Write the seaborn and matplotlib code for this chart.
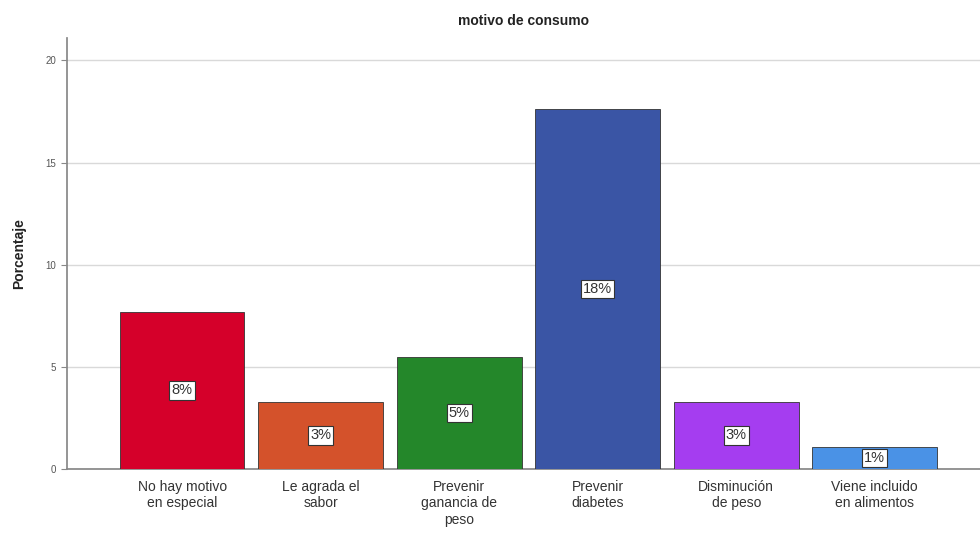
import pandas as pd
import seaborn as sns
import matplotlib.pyplot as plt

categorias = ['No hay motivo\nen especial', 'Le agrada el\nsabor', 'Prevenir\nganancia de\npeso',
              'Prevenir\ndiabetes', 'Disminución\nde peso', 'Viene incluido\nen alimentos']
porcentajes = [7.7, 3.3, 5.5, 17.6, 3.3, 1.1]
etiquetas = ['8%', '3%', '5%', '18%', '3%', '1%']
colores = ['#D5002A', '#D4522B', '#24872A', '#3A55A5', '#A53DF0', '#4A92E6']


def main():
    sns.set_theme(style='white')
    plt.rcParams['font.family'] = ['Liberation Sans', 'DejaVu Sans']

    df = pd.DataFrame({'motivo': categorias, 'pct': porcentajes})

    fig = plt.figure(figsize=(9.8, 5.33), dpi=100)
    ax = fig.add_axes([0.068, 0.12, 0.932, 0.809])

    sns.barplot(data=df, x='motivo', y='pct', hue='motivo', palette=colores,
                width=0.9, legend=False, edgecolor='#333333', linewidth=0.6,
                saturation=1, ax=ax, zorder=3)

    for i, (v, lab) in enumerate(zip(porcentajes, etiquetas)):
        ax.text(i, v / 2, lab, ha='center', va='center', fontsize=10.5, color='#333333',
                bbox=dict(boxstyle='square,pad=0.15', fc='white', ec='#333333', lw=0.8),
                zorder=5)

    ax.set_ylim(0, 21.1)
    ax.set_xlim(-0.834, 5.76)
    ax.set_yticks([0, 5, 10, 15, 20])
    ax.yaxis.grid(True, color='#d9d9d9', linewidth=1.0, zorder=0)
    ax.set_axisbelow(True)

    for s in ['top', 'right']:
        ax.spines[s].set_visible(False)
    ax.spines['left'].set_color('#888888')
    ax.spines['bottom'].set_color('#888888')

    ax.tick_params(axis='y', left=True, length=4, width=0.8, color='#888888',
                   labelsize=7, labelcolor='#555555')
    ax.tick_params(axis='x', bottom=False, labelsize=10, labelcolor='#333333', pad=2)

    ax.set_xlabel('')
    ax.set_ylabel('Porcentaje', fontsize=10, fontweight='bold', color='#222222', labelpad=14)
    ax.set_title('motivo de consumo', fontsize=10, fontweight='bold', color='#222222', pad=9)

    fig.savefig('out.png', dpi=100)


if __name__ == "__main__":
    main()
